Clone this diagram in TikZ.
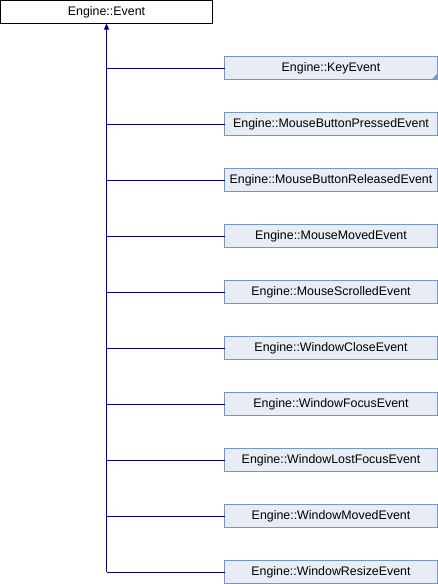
\documentclass[tikz,border=0pt]{standalone}
\usepackage{fontspec}
\setmainfont{Liberation Sans}
\usetikzlibrary{positioning}
\usetikzlibrary{arrows.meta}
\definecolor{edgeblue}{RGB}{0,0,128}
\definecolor{boxfill}{RGB}{232,236,245}
\definecolor{boxline}{RGB}{122,148,200}
\tikzset{
  base/.style={draw=black, fill=white, line width=1pt, minimum width=212pt,
    minimum height=23pt, inner sep=0pt, outer sep=0pt,
    font=\fontsize{12.4}{14}\selectfont},
  derived/.style={base, draw=boxline, fill=boxfill, minimum width=213pt},
  edge/.style={draw=edgeblue, line width=1pt},
}
\begin{document}
   \begin{tikzpicture}[x=1pt,y=1pt]
      \useasboundingbox (0,0) rectangle (438,-584);
      \node[base] (event) at (106.5,-12) {Engine::Event};

      \node[derived] (key) at (331,-68) {Engine::KeyEvent};
      \node[derived, below=33pt of key] (mbp) {Engine::MouseButtonPressedEvent};
      \node[derived, below=33pt of mbp] (mbr) {Engine::MouseButtonReleasedEvent};
      \node[derived, below=33pt of mbr] (mmv) {Engine::MouseMovedEvent};
      \node[derived, below=33pt of mmv] (msc) {Engine::MouseScrolledEvent};
      \node[derived, below=33pt of msc] (wcl) {Engine::WindowCloseEvent};
      \node[derived, below=33pt of wcl] (wfo) {Engine::WindowFocusEvent};
      \node[derived, below=33pt of wfo] (wlf) {Engine::WindowLostFocusEvent};
      \node[derived, below=33pt of wlf] (wmv) {Engine::WindowMovedEvent};
      \node[derived, below=33pt of wmv] (wrs) {Engine::WindowResizeEvent};

      % marker for further derived classes
      \fill[boxline] (key.south east) -- ++(-6,0) -- ++(6,6) -- cycle;

      \draw[edge, {Triangle[length=6pt,width=5pt]}-] (event.south) -- (event.south |- wrs.west);
      \foreach \n in {key,mbp,mbr,mmv,msc,wcl,wfo,wlf,wmv,wrs}
         \draw[edge] (\n.west) -- (\n.west -| event.south);
   \end{tikzpicture}
\end{document}
